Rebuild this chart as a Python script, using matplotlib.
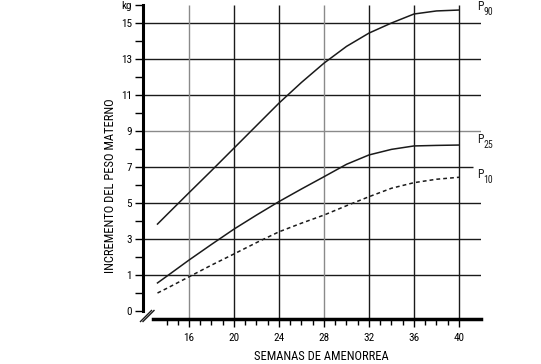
import matplotlib
matplotlib.use("Agg")
import matplotlib.pyplot as plt

# ============================================
# Data
# ============================================

weeks = [13.2, 14, 16, 18, 20, 22, 24, 26, 28, 30, 32, 34, 36, 38, 40]

p90 = [3.83, 4.33, 5.57, 6.8, 8.05, 9.3, 10.55, 11.7, 12.77, 13.7, 14.44, 15.0, 15.5, 15.67, 15.72]
p25 = [0.56, 0.92, 1.83, 2.7, 3.55, 4.33, 5.08, 5.78, 6.46, 7.15, 7.67, 7.98, 8.17, 8.2, 8.22]
p10 = [0.0, 0.25, 0.9, 1.55, 2.17, 2.8, 3.4, 3.88, 4.33, 4.85, 5.35, 5.82, 6.13, 6.32, 6.43]

x_major = [16, 20, 24, 28, 32, 36, 40]
x_minor = [w for w in range(14, 40) if w % 4 != 0]

# y axis is broken: "0" sits one step below 1
y_ticks = list(range(-1, 17))
y_labels = []
for v in y_ticks:
    if v == -1:
        y_labels.append("0")
    elif v == 16:
        y_labels.append("kg")
    elif v % 2 == 1 and v > 0:
        y_labels.append(str(v))
    else:
        y_labels.append("")

grid_y = [1, 3, 5, 7, 9, 11, 13, 15]

# ============================================
# Figure
# ============================================

plt.rcParams["font.family"] = ["Roboto Condensed", "Liberation Sans Narrow",
                               "Liberation Sans", "DejaVu Sans"]

W, H = 541, 364
fig = plt.figure(figsize=(W / 100, H / 100), dpi=100)

x0, x1 = 11.911, 41.956
y0, y1 = -1.444, 16.0
ax = fig.add_axes([143 / W, (H - 319) / H, (481 - 143) / W, (319 - 5) / H])
ax.set_xlim(x0, x1)
ax.set_ylim(y0, y1)

# grid
for v in grid_y:
    col = "#8a8a8a" if v == 9 else "#1a1a1a"
    xe = 41.24 if v == 7 else x1
    ax.hlines(v, x0, xe, color=col, lw=1.0, zorder=1)
for w in x_major:
    col = "#8a8a8a" if w in (16, 28) else "#1a1a1a"
    ax.vlines(w, y0, y1, color=col, lw=1.0, zorder=1)

# curves
ax.plot(weeks, p90, color="#1a1a1a", lw=1.1, zorder=3)
ax.plot(weeks, p25, color="#1a1a1a", lw=1.1, zorder=3)
ax.plot(weeks, p10, color="#1a1a1a", lw=1.1, dashes=(2.5, 2.0), zorder=3)

# curve labels: "P" with a large subscript
for vals, name, dy in [(p90, "90", 0), (p25, "25", 1.5), (p10, "10", -0.5)]:
    ax.annotate("P", xy=(weeks[-1], vals[-1]), xytext=(13, dy),
                textcoords="offset points", fontsize=8.5, color="#1a1a1a",
                va="baseline", ha="left", annotation_clip=False)
    ax.annotate(name, xy=(weeks[-1], vals[-1]), xytext=(17.6, dy - 3.6),
                textcoords="offset points", fontsize=7, color="#1a1a1a",
                va="baseline", ha="left", annotation_clip=False)

# spines
for s in ["top", "right"]:
    ax.spines[s].set_visible(False)
ax.spines["left"].set_bounds(-1, 16)
ax.spines["left"].set_linewidth(2.2)
ax.spines["bottom"].set_bounds(12.8, x1)
ax.spines["bottom"].set_linewidth(2.5)

ax.set_yticks(y_ticks)
ax.set_yticklabels(y_labels)
ax.tick_params(axis="y", direction="out", length=6, width=1.0, pad=2, labelsize=8)

ax.set_xticks(x_major)
ax.set_xticks(x_minor, minor=True)
ax.tick_params(axis="x", which="major", direction="out", length=6, width=1.0, pad=4, labelsize=8)
ax.tick_params(axis="x", which="minor", direction="out", length=4, width=1.0)

ax.set_xlabel("SEMANAS DE AMENORREA", fontsize=9)
ax.set_ylabel("INCREMENTO DEL PESO MATERNO", fontsize=9)
ax.xaxis.set_label_coords((321 - 143) / 338, (319 - 349.5) / 314)
ax.yaxis.set_label_coords((117 - 143) / 338, (319 - 186) / 314)

# break marks on the axis corner
for dx in (0, 2.5):
    fig.add_artist(plt.Line2D([(140.5 + dx) / W, (151.5 + dx) / W],
                              [1 - 321.5 / H, 1 - 310.5 / H],
                              color="#1a1a1a", lw=1.0))

# Save graph
fig.savefig("out.png", dpi=100)
